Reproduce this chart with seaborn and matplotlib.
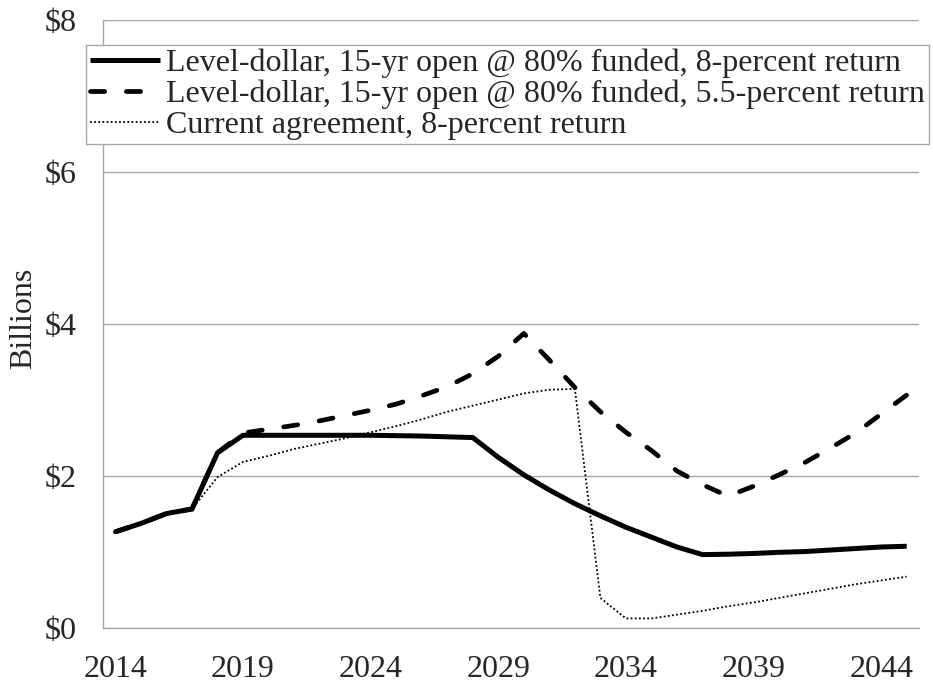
import numpy as np
import pandas as pd
import seaborn as sns
import matplotlib.pyplot as plt

# Fiscal years (points plotted mid-year, Excel category style)
years = list(range(2014, 2046))

level_8 = [1.27, 1.38, 1.51, 1.57, 2.31, 2.54, 2.54, 2.54, 2.54, 2.54,
           2.54, 2.535, 2.53, 2.52, 2.51, 2.25, 2.02, 1.82, 1.64, 1.48,
           1.33, 1.20, 1.07, 0.97, 0.975, 0.985, 1.00, 1.01, 1.03, 1.05,
           1.07, 1.08]

level_55 = [1.27, 1.38, 1.51, 1.57, 2.31, 2.57, 2.62, 2.67, 2.73, 2.80,
            2.87, 2.95, 3.06, 3.18, 3.35, 3.58, 3.88, 3.53, 3.17, 2.85,
            2.58, 2.34, 2.07, 1.89, 1.74, 1.87, 2.02, 2.18, 2.37, 2.57,
            2.82, 3.07]

current_8 = [1.27, 1.38, 1.51, 1.57, 1.99, 2.19, 2.27, 2.36, 2.43, 2.50,
             2.58, 2.66, 2.75, 2.85, 2.93, 3.01, 3.09, 3.14, 3.15, 0.40,
             0.13, 0.13, 0.18, 0.23, 0.29, 0.34, 0.40, 0.46, 0.52, 0.58,
             0.63, 0.68]

labels = ["Level-dollar, 15-yr open @ 80% funded, 8-percent return",
          "Level-dollar, 15-yr open @ 80% funded, 5.5-percent return",
          "Current agreement, 8-percent return"]

yticks = [0, 2, 4, 6, 8]
xtick_years = [2014, 2019, 2024, 2029, 2034, 2039, 2044]

sns.set_style('white')
plt.rcParams['font.family'] = ['Liberation Serif', 'DejaVu Serif']

fig = plt.figure(figsize=(9.33, 6.82), dpi=100)
ax = fig.add_axes([0.110, 0.0787, 0.8755, 0.8915])

x = np.array(years) + 0.5
grid_col = '#a6a6a6'
fs = 23

# one lineplot per series, styled like the original
sns.lineplot(x=x, y=level_8, ax=ax, color='black', lw=3.6, label=labels[0],
             solid_capstyle='butt', solid_joinstyle='miter')
sns.lineplot(x=x, y=level_55, ax=ax, color='black', lw=3.4, label=labels[1],
             linestyle=(0, (3.0, 4.6)), dash_capstyle='round')
sns.lineplot(x=x, y=current_8, ax=ax, color='black', lw=1.3, label=labels[2],
             linestyle=(0, (1, 1.3)))

ax.set_xlim(2014, 2046)
ax.set_ylim(0, 8)

# tick marks on category boundaries, labels on category centres
ax.set_xticks(xtick_years)
ax.set_xticklabels([])
ax.set_xticks([v + 0.5 for v in xtick_years], minor=True)
ax.set_xticklabels([str(v) for v in xtick_years], minor=True)
ax.set_yticks(yticks)
ax.set_yticklabels([f"${v}" for v in yticks])
ax.yaxis.grid(True, color=grid_col, lw=1)
ax.set_axisbelow(True)

for side in ['top', 'right']:
    ax.spines[side].set_visible(False)
for side in ['left', 'bottom']:
    ax.spines[side].set_color(grid_col)
    ax.spines[side].set_linewidth(1)

ax.tick_params(axis='both', which='major', direction='out', length=7,
               width=1, color=grid_col, labelsize=fs)
ax.tick_params(axis='y', pad=12)
ax.tick_params(axis='x', which='minor', length=0, labelsize=fs, pad=19)
ax.set_xlabel('')
ax.set_ylabel('Billions', fontsize=fs)
ax.yaxis.set_label_coords(-0.079, 0.51)

leg = ax.legend(loc='upper left', bbox_to_anchor=(0.092, 0.934),
                bbox_transform=fig.transFigure, fontsize=fs,
                frameon=True, fancybox=False, framealpha=1,
                edgecolor=grid_col, borderpad=0.12, labelspacing=0.05,
                handlelength=2.2, handletextpad=0.2, borderaxespad=0)
leg.get_frame().set_linewidth(1)

fig.savefig('out.png', dpi=100)
